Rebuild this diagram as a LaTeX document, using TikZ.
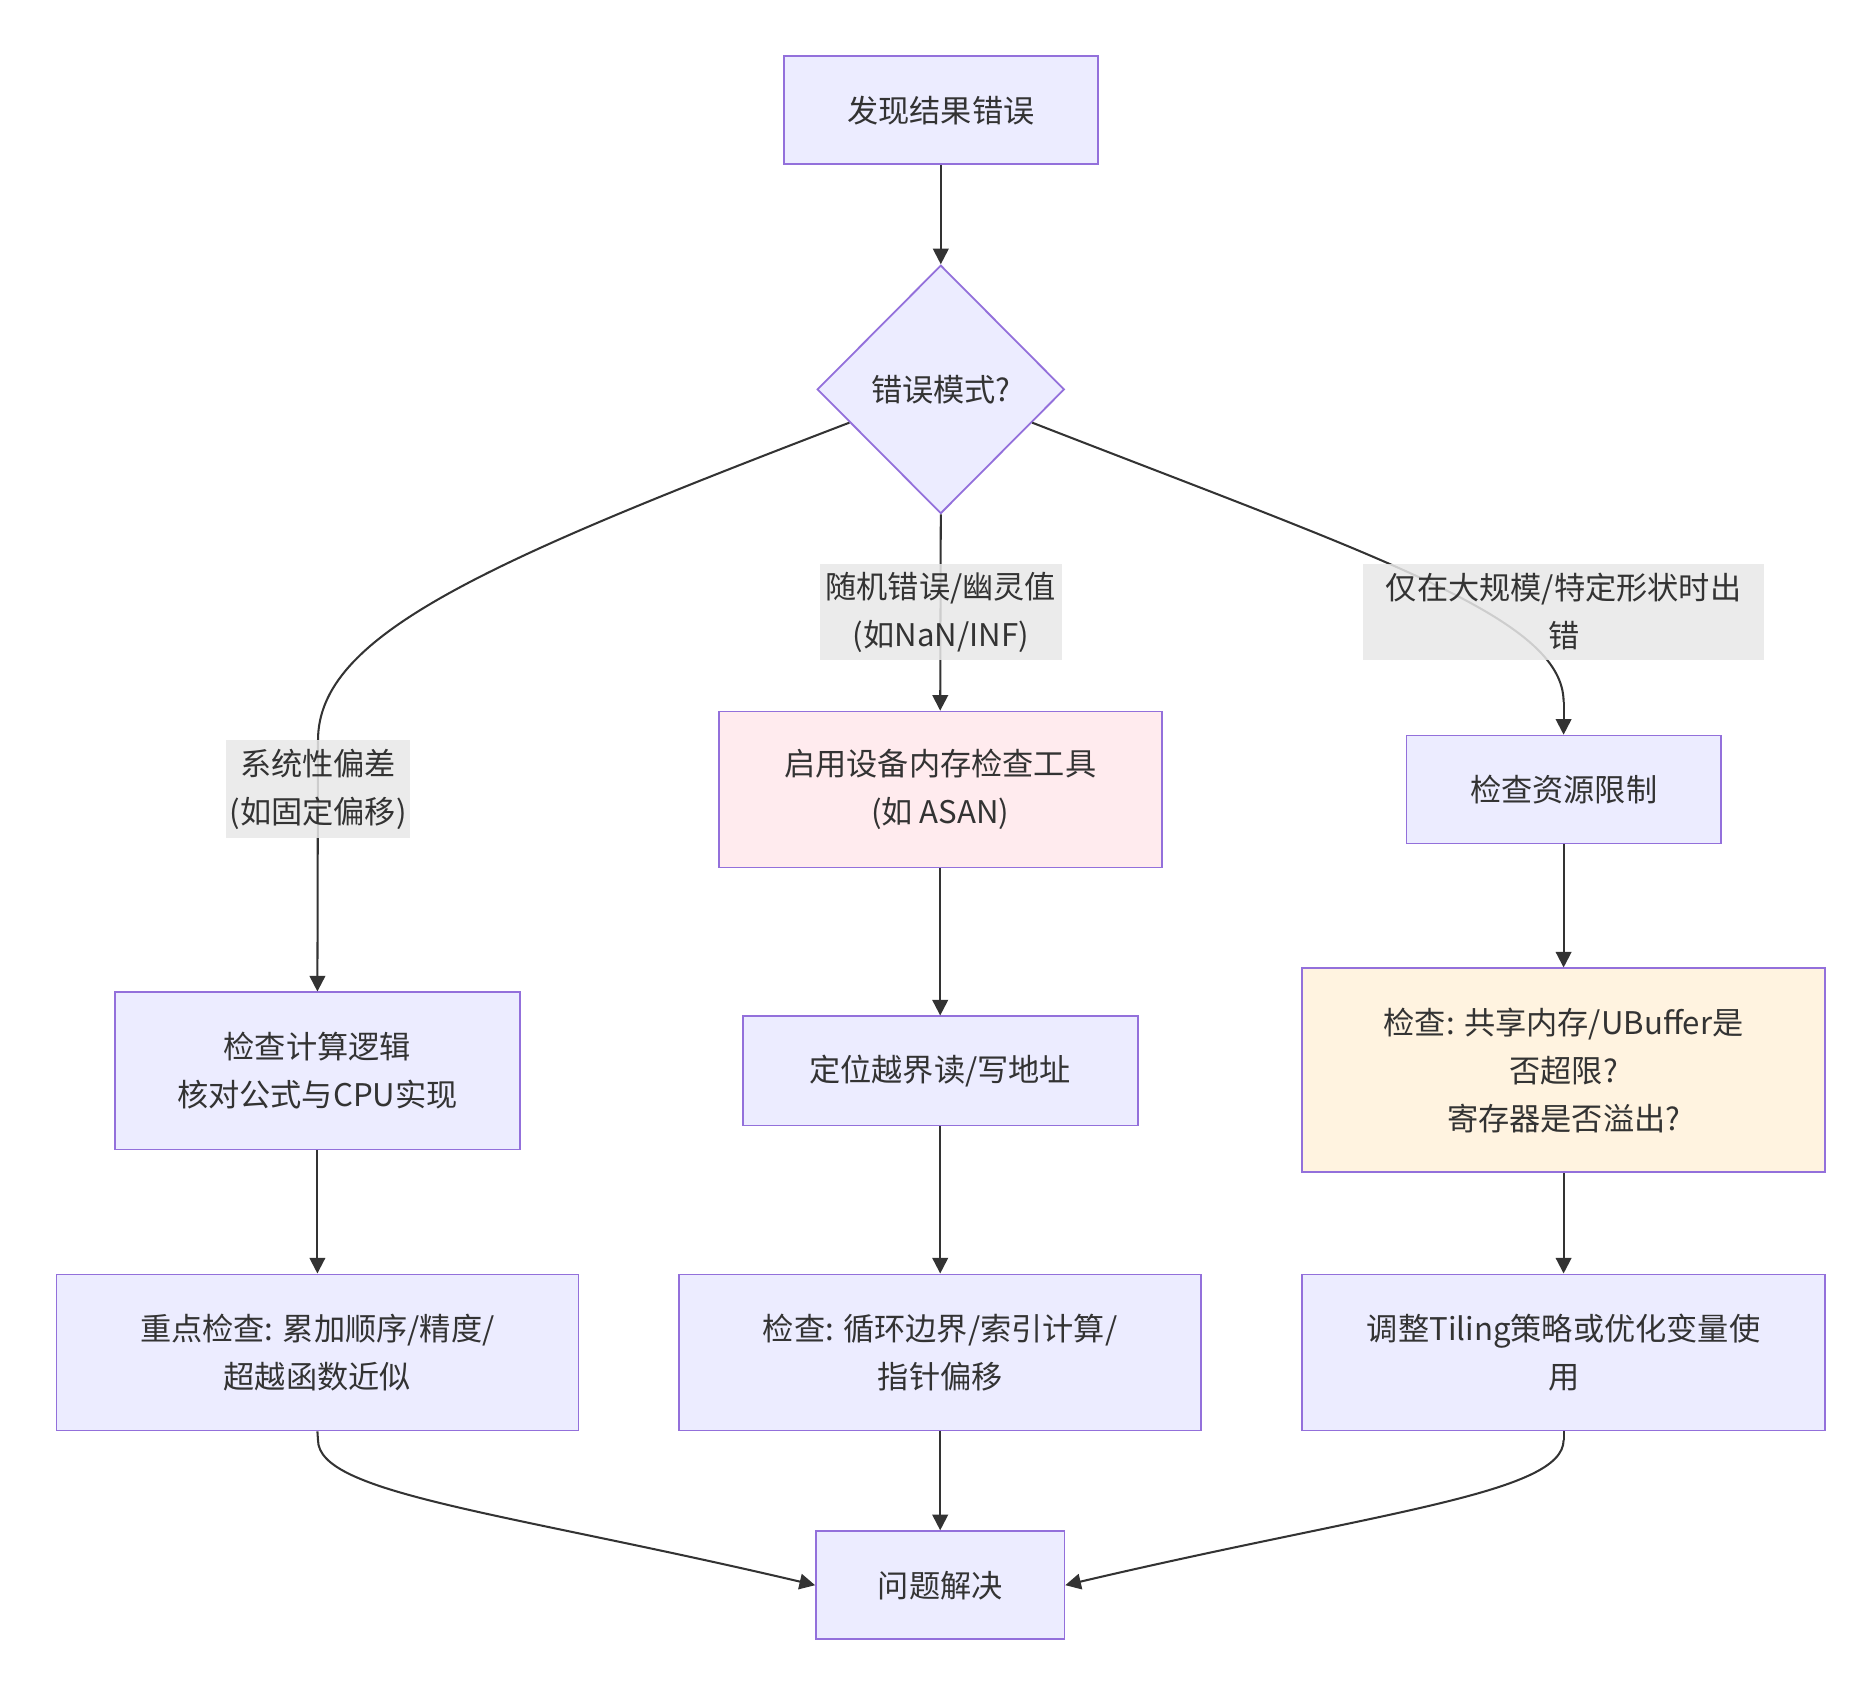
\documentclass[tikz,border=0pt]{standalone}
\usepackage{fontspec}
\setmainfont{Noto Sans CJK SC}
\usetikzlibrary{shapes.geometric,arrows.meta}
\definecolor{nodefill}{HTML}{ECECFF}
\definecolor{nodestroke}{HTML}{9370DB}
\definecolor{pinkfill}{HTML}{FFEBEE}
\definecolor{orangefill}{HTML}{FFF3E0}
\definecolor{edgecol}{HTML}{333333}
\definecolor{lblbg}{HTML}{E8E8E8}
\definecolor{txt}{HTML}{333333}
\tikzset{
  box/.style={draw=nodestroke, fill=nodefill, line width=0.75pt, inner sep=0pt, align=center, text=txt, font=\fontsize{13pt}{20pt}\selectfont},
  decide/.style={box, shape=diamond, aspect=1},
  lbl/.style={fill=lblbg, fill opacity=0.85, text opacity=1, inner sep=0pt, align=center, text=txt, font=\fontsize{13pt}{20pt}\selectfont},
  arr/.style={draw=edgecol, line width=0.85pt, -{Triangle[length=6.5pt,width=6.5pt]}},
  ln/.style={draw=edgecol, line width=0.85pt}
}
\begin{document}
\begin{tikzpicture}[x=0.5pt,y=-0.5pt]
\useasboundingbox (0,0) rectangle (1560,1405.8);
% nodes
\node[box, minimum width=131pt, minimum height=45pt] (A) at (784,92) {发现结果错误};
\node[decide, minimum width=103pt, minimum height=103.5pt] (B) at (784,324.5) {错误模式?};
\node[box, fill=pinkfill, minimum width=184.5pt, minimum height=65pt] (F) at (783.5,658) {启用设备内存检查工具\\(如 ASAN)};
\node[box, minimum width=131pt, minimum height=45pt] (I) at (1303,658) {检查资源限制};
\node[box, minimum width=168.5pt, minimum height=65.5pt] (D) at (264.5,892.5) {检查计算逻辑\\核对公式与CPU实现};
\node[box, minimum width=164.5pt, minimum height=45.5pt] (G) at (783.5,892.5) {定位越界读/写地址};
\node[box, fill=orangefill, minimum width=218pt, minimum height=85pt] (J) at (1303,892) {检查: 共享内存/UBuffer是\\否超限?\\寄存器是否溢出?};
\node[box, minimum width=217.5pt, minimum height=65pt] (E) at (264.5,1127) {重点检查: 累加顺序/精度/\\超越函数近似};
\node[box, minimum width=217.5pt, minimum height=65pt] (H) at (783.5,1127) {检查: 循环边界/索引计算/\\指针偏移};
\node[box, minimum width=218pt, minimum height=65pt] (K) at (1303,1127) {调整Tiling策略或优化变量使\\用};
\node[box, minimum width=103.5pt, minimum height=45pt] (L) at (783.5,1321) {问题解决};
% helper coordinates
\coordinate (lc) at (265,617);
\coordinate (rc) at (1303,585);
\coordinate (ec) at (265,1200);
\coordinate (kc) at (1303,1200);
% edges
\draw[arr] (A) -- (B);
\draw[ln] (B.200) .. controls (400,470) and (265,530) .. (lc);
\draw[arr] (lc) -- (D.north);
\draw[arr] (B.south) -- (F.north);
\draw[ln] (B.340) .. controls (1150,465) and (1303,515) .. (rc);
\draw[arr] (rc) -- (I.north);
\draw[arr] (D) -- (E);
\draw[arr] (F) -- (G);
\draw[arr] (G) -- (H);
\draw[arr] (I) -- (J);
\draw[arr] (J) -- (K);
\draw[ln] (E.south) -- (ec);
\draw[arr] (ec) .. controls (265,1245) and (420,1260) .. (L.west);
\draw[arr] (H) -- (L);
\draw[ln] (K.south) -- (kc);
\draw[arr] (kc) .. controls (1303,1245) and (1147,1260) .. (L.east);
% edge labels
\node[lbl, minimum width=77pt, minimum height=40.5pt] (lblC) at (265,657.5) {系统性偏差\\(如固定偏移)};
\node[lbl, minimum width=101pt, minimum height=40pt] (lblM) at (784,510) {随机错误/幽灵值\\(如NaN/INF)};
\node[lbl, minimum width=167pt, minimum height=40pt] (lblR) at (1303,510) {仅在大规模/特定形状时出\\错};
\end{tikzpicture}
\end{document}
